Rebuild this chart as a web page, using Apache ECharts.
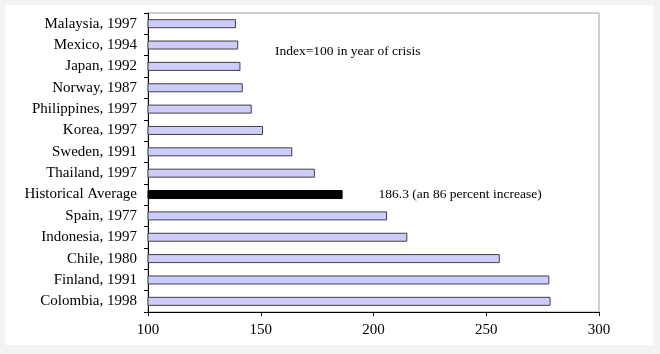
<!DOCTYPE html>
<html>
<head>
<meta charset="utf-8">
<script src="https://cdn.jsdelivr.net/npm/echarts@6/dist/echarts.min.js"></script>
<style>
  html, body { margin: 0; padding: 0; background: #f3f3f3; }
  #main { width: 660px; height: 354px; }
</style>
</head>
<body>
<div id="main"></div>
<script>
// categories top to bottom, as in the picture
var countries = ['Malaysia, 1997', 'Mexico, 1994', 'Japan, 1992', 'Norway, 1987',
  'Philippines, 1997', 'Korea, 1997', 'Sweden, 1991', 'Thailand, 1997',
  'Historical Average', 'Spain, 1977', 'Indonesia, 1997', 'Chile, 1980',
  'Finland, 1991', 'Colombia, 1998']
var values = [139, 140, 141, 142, 146, 151, 164, 174, 186.3, 206, 215, 256, 278, 278.5]
var avgLabel = '186.3 (an 86 percent increase)'
var note = 'Index=100 in year of crisis'

var font = 'Liberation Serif'

var data = values.map(function (v, i) {
  var isAvg = countries[i] === 'Historical Average'
  return {
    value: v,
    itemStyle: isAvg ? { color: '#000', borderColor: '#000' } : {},
    label: isAvg ? {
      show: true, position: 'right', distance: 36,
      formatter: avgLabel, color: '#000', fontFamily: font, fontSize: 13.5
    } : { show: false }
  }
})

var chart = echarts.init(document.getElementById('main'))
chart.setOption({
  animation: false,
  graphic: [
    { type: 'rect', left: 5, top: 5, z: -10, shape: { width: 648, height: 340 }, style: { fill: '#fff' } },
    { type: 'text', left: 275, top: 44, style: { text: note, fill: '#000', font: '13.5px "Liberation Serif"' } }
  ],
  grid: { left: 148, right: 61, top: 13, bottom: 42, show: true, borderColor: '#a0a0a0', borderWidth: 1 },
  xAxis: {
    type: 'value', min: 100, max: 300, interval: 50,
    splitLine: { show: false },
    axisLine: { show: true, lineStyle: { color: '#000' } },
    axisTick: { show: true, length: 4, lineStyle: { color: '#000' } },
    axisLabel: { color: '#000', fontFamily: font, fontSize: 15, margin: 11 }
  },
  yAxis: {
    type: 'category', inverse: true, data: countries,
    axisLine: { show: true, lineStyle: { color: '#000' } },
    axisTick: { show: true, length: 4, lineStyle: { color: '#000' } },
    axisLabel: { color: '#000', fontFamily: font, fontSize: 15, margin: 11 }
  },
  series: [{
    type: 'bar',
    data: data,
    barWidth: 9,
    itemStyle: { color: '#ccccff', borderColor: '#404040', borderWidth: 1 }
  }]
})
</script>
</body>
</html>
